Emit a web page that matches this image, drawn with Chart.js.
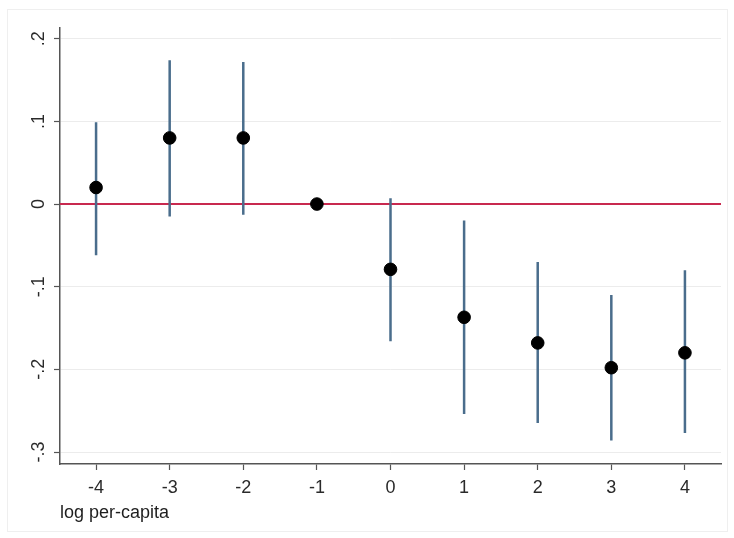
<!DOCTYPE html>
<html>
<head>
<meta charset="utf-8">
<script src="https://cdn.jsdelivr.net/npm/chart.js@4/dist/chart.umd.min.js"></script>
<style>
  html, body { margin: 0; padding: 0; background: #ffffff; }
  #wrap { width: 734px; height: 538px; position: relative; }
</style>
</head>
<body>
<div id="wrap"><canvas id="c" width="734" height="538"></canvas></div>
<script>
// Event-time coefficients with confidence intervals
const periods = [-4, -3, -2, -1, 0, 1, 2, 3, 4];
const estimates = [0.02, 0.08, 0.08, 0, -0.079, -0.137, -0.168, -0.198, -0.18];
const ciLow = [-0.062, -0.015, -0.013, null, -0.166, -0.254, -0.265, -0.286, -0.277];
const ciHigh = [0.099, 0.174, 0.172, null, 0.007, -0.02, -0.07, -0.11, -0.08];
const yTickValues = [-0.3, -0.2, -0.1, 0, 0.1, 0.2];
const yTickLabels = ['-.3', '-.2', '-.1', '0', '.1', '.2'];
const xTitle = 'log per-capita';
const refLine = [{ x: -4.49, y: 0 }, { x: 4.49, y: 0 }];

const FONT = '"Liberation Sans", Arial, sans-serif';

// vertical CI segments, separated by gaps
const ciSegments = [];
periods.forEach((p, i) => {
  if (ciLow[i] === null) return;
  ciSegments.push({ x: p, y: ciLow[i] }, { x: p, y: ciHigh[i] }, { x: p, y: null });
});

const framePlugin = {
  id: 'frame',
  beforeDraw(chart) {
    const ctx = chart.ctx;
    ctx.save();
    ctx.fillStyle = '#ffffff';
    ctx.fillRect(0, 0, chart.width, chart.height);
    ctx.strokeStyle = '#efefef';
    ctx.lineWidth = 1;
    ctx.strokeRect(7.5, 9.5, 720, 522);
    ctx.restore();
  }
};

// rotated y-axis labels placed at the scale's tick pixels
const yLabelPlugin = {
  id: 'yLabels',
  afterDraw(chart) {
    const ctx = chart.ctx;
    const ys = chart.scales.y;
    ctx.save();
    ctx.font = '18px ' + FONT;
    ctx.fillStyle = '#2a2a2a';
    ctx.textAlign = 'center';
    ctx.textBaseline = 'middle';
    yTickValues.forEach((v, i) => {
      const py = ys.getPixelForValue(v);
      ctx.save();
      ctx.translate(39, py);
      ctx.rotate(-Math.PI / 2);
      ctx.fillText(yTickLabels[i], 0, 0);
      ctx.restore();
    });
    ctx.restore();
  }
};

new Chart(document.getElementById('c'), {
  type: 'scatter',
  data: {
    datasets: [
      {
        label: 'estimate',
        data: periods.map((p, i) => ({ x: p, y: estimates[i] })),
        backgroundColor: '#000000',
        borderColor: '#000000',
        pointRadius: 6.3,
        pointHoverRadius: 6.3,
        order: 0
      },
      {
        label: 'ci',
        type: 'line',
        data: ciSegments,
        borderColor: '#4a6d8c',
        borderWidth: 2.5,
        pointRadius: 0,
        spanGaps: false,
        fill: false,
        order: 1
      },
      {
        label: 'zero',
        type: 'line',
        data: refLine,
        borderColor: '#c8294f',
        borderWidth: 2,
        pointRadius: 0,
        fill: false,
        order: 2
      }
    ]
  },
  options: {
    responsive: false,
    animation: false,
    events: [],
    layout: { padding: { left: 0, right: 13, top: 28, bottom: 0 } },
    plugins: { legend: { display: false }, tooltip: { enabled: false } },
    scales: {
      x: {
        type: 'linear',
        min: -4.49,
        max: 4.49,
        afterBuildTicks(scale) { scale.ticks = periods.map(v => ({ value: v })); },
        afterFit(scale) { scale.height = 74; },
        grid: { drawOnChartArea: false, drawTicks: true, tickLength: 6, tickColor: '#555555', tickWidth: 1.2 },
        border: { color: '#555555', width: 1.5 },
        ticks: {
          font: { family: FONT, size: 18 },
          color: '#2a2a2a',
          padding: 7,
          maxRotation: 0,
          autoSkip: false,
          callback: v => String(v)
        },
        title: {
          display: true,
          text: xTitle,
          align: 'start',
          font: { family: FONT, size: 18 },
          color: '#1e1e1e',
          padding: { top: 4, bottom: 14 }
        }
      },
      y: {
        type: 'linear',
        min: -0.3145,
        max: 0.213,
        afterBuildTicks(scale) { scale.ticks = yTickValues.map(v => ({ value: v })); },
        afterFit(scale) { scale.width = 60; },
        grid: { color: '#ececec', lineWidth: 1, drawTicks: true, tickLength: 6, tickColor: '#555555', tickWidth: 1.2 },
        border: { color: '#555555', width: 1.5 },
        ticks: { display: false }
      }
    }
  },
  plugins: [framePlugin, yLabelPlugin]
});
</script>
</body>
</html>
